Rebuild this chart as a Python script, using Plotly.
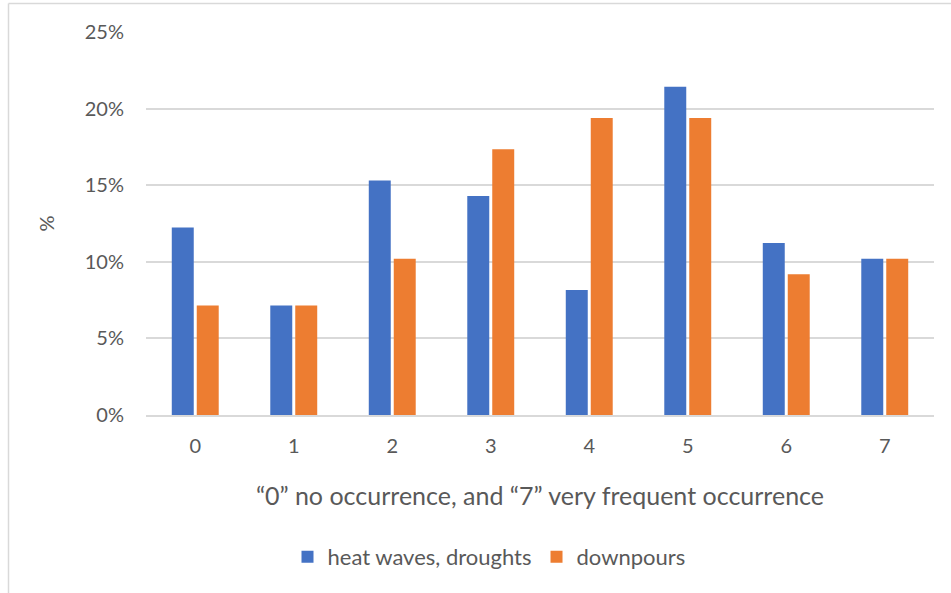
import plotly.graph_objects as go

categories = ["0", "1", "2", "3", "4", "5", "6", "7"]
heat_waves = [12.24, 7.14, 15.31, 14.29, 8.16, 21.43, 11.22, 10.20]
downpours = [7.14, 7.14, 10.20, 17.35, 19.39, 19.39, 9.18, 10.20]
y_ticks = [0, 5, 10, 15, 20, 25]

FONT = "Lato"
GREY_TEXT = "#595959"
GRID = "#D9D9D9"

W, H = 951, 593
ML, MR, MT, MB = 146, 17, 32, 178
pw, ph = W - ML - MR, H - MT - MB

fig = go.Figure()
fig.add_trace(go.Bar(x=categories, y=heat_waves, name="heat waves, droughts",
                     marker=dict(color="#4472C4", line=dict(width=0))))
fig.add_trace(go.Bar(x=categories, y=downpours, name="downpours",
                     marker=dict(color="#ED7D31", line=dict(width=0))))

# chart frame (left and top edges visible)
def px_x(p):
    return (p - ML) / pw

def px_y(p):
    return (H - MB - p) / ph

fig.add_shape(type="line", xref="paper", yref="paper",
              x0=px_x(8.5), x1=px_x(960), y0=px_y(3.5), y1=px_y(3.5),
              line=dict(color=GRID, width=1.5))
fig.add_shape(type="line", xref="paper", yref="paper",
              x0=px_x(8.5), x1=px_x(8.5), y0=px_y(3.5), y1=px_y(600),
              line=dict(color=GRID, width=1.5))

fig.update_layout(
    width=W, height=H,
    margin=dict(l=ML, r=MR, t=MT, b=MB),
    paper_bgcolor="white", plot_bgcolor="white",
    barmode="group", bargap=0.493, bargroupgap=0.12,
    font=dict(family=FONT, color=GREY_TEXT, size=20),
    showlegend=True,
    legend=dict(orientation="h", x=px_x(489), xanchor="center", y=px_y(557), yanchor="middle",
                font=dict(size=22, color=GREY_TEXT, family=FONT),
                itemsizing="constant", traceorder="normal"),
    xaxis=dict(
        type="category", showgrid=False, showline=True, linecolor=GRID, linewidth=1.5,
        ticks="", ticklabelstandoff=12, tickfont=dict(size=20, color=GREY_TEXT),
        title=dict(text="\u201c0\u201d no occurrence, and \u201c7\u201d very frequent occurrence",
                   font=dict(size=25, color=GREY_TEXT), standoff=32),
    ),
    yaxis=dict(
        range=[0, 25], tickvals=y_ticks, ticktext=[f"{v}%" for v in y_ticks],
        showgrid=True, gridcolor=GRID, gridwidth=1.5, zeroline=False, showline=False,
        ticks="", ticklabelstandoff=21, tickfont=dict(size=20, color=GREY_TEXT),
        title=dict(text="%", font=dict(size=20, color=GREY_TEXT), standoff=24),
    ),
)

fig.write_html("out.html")
